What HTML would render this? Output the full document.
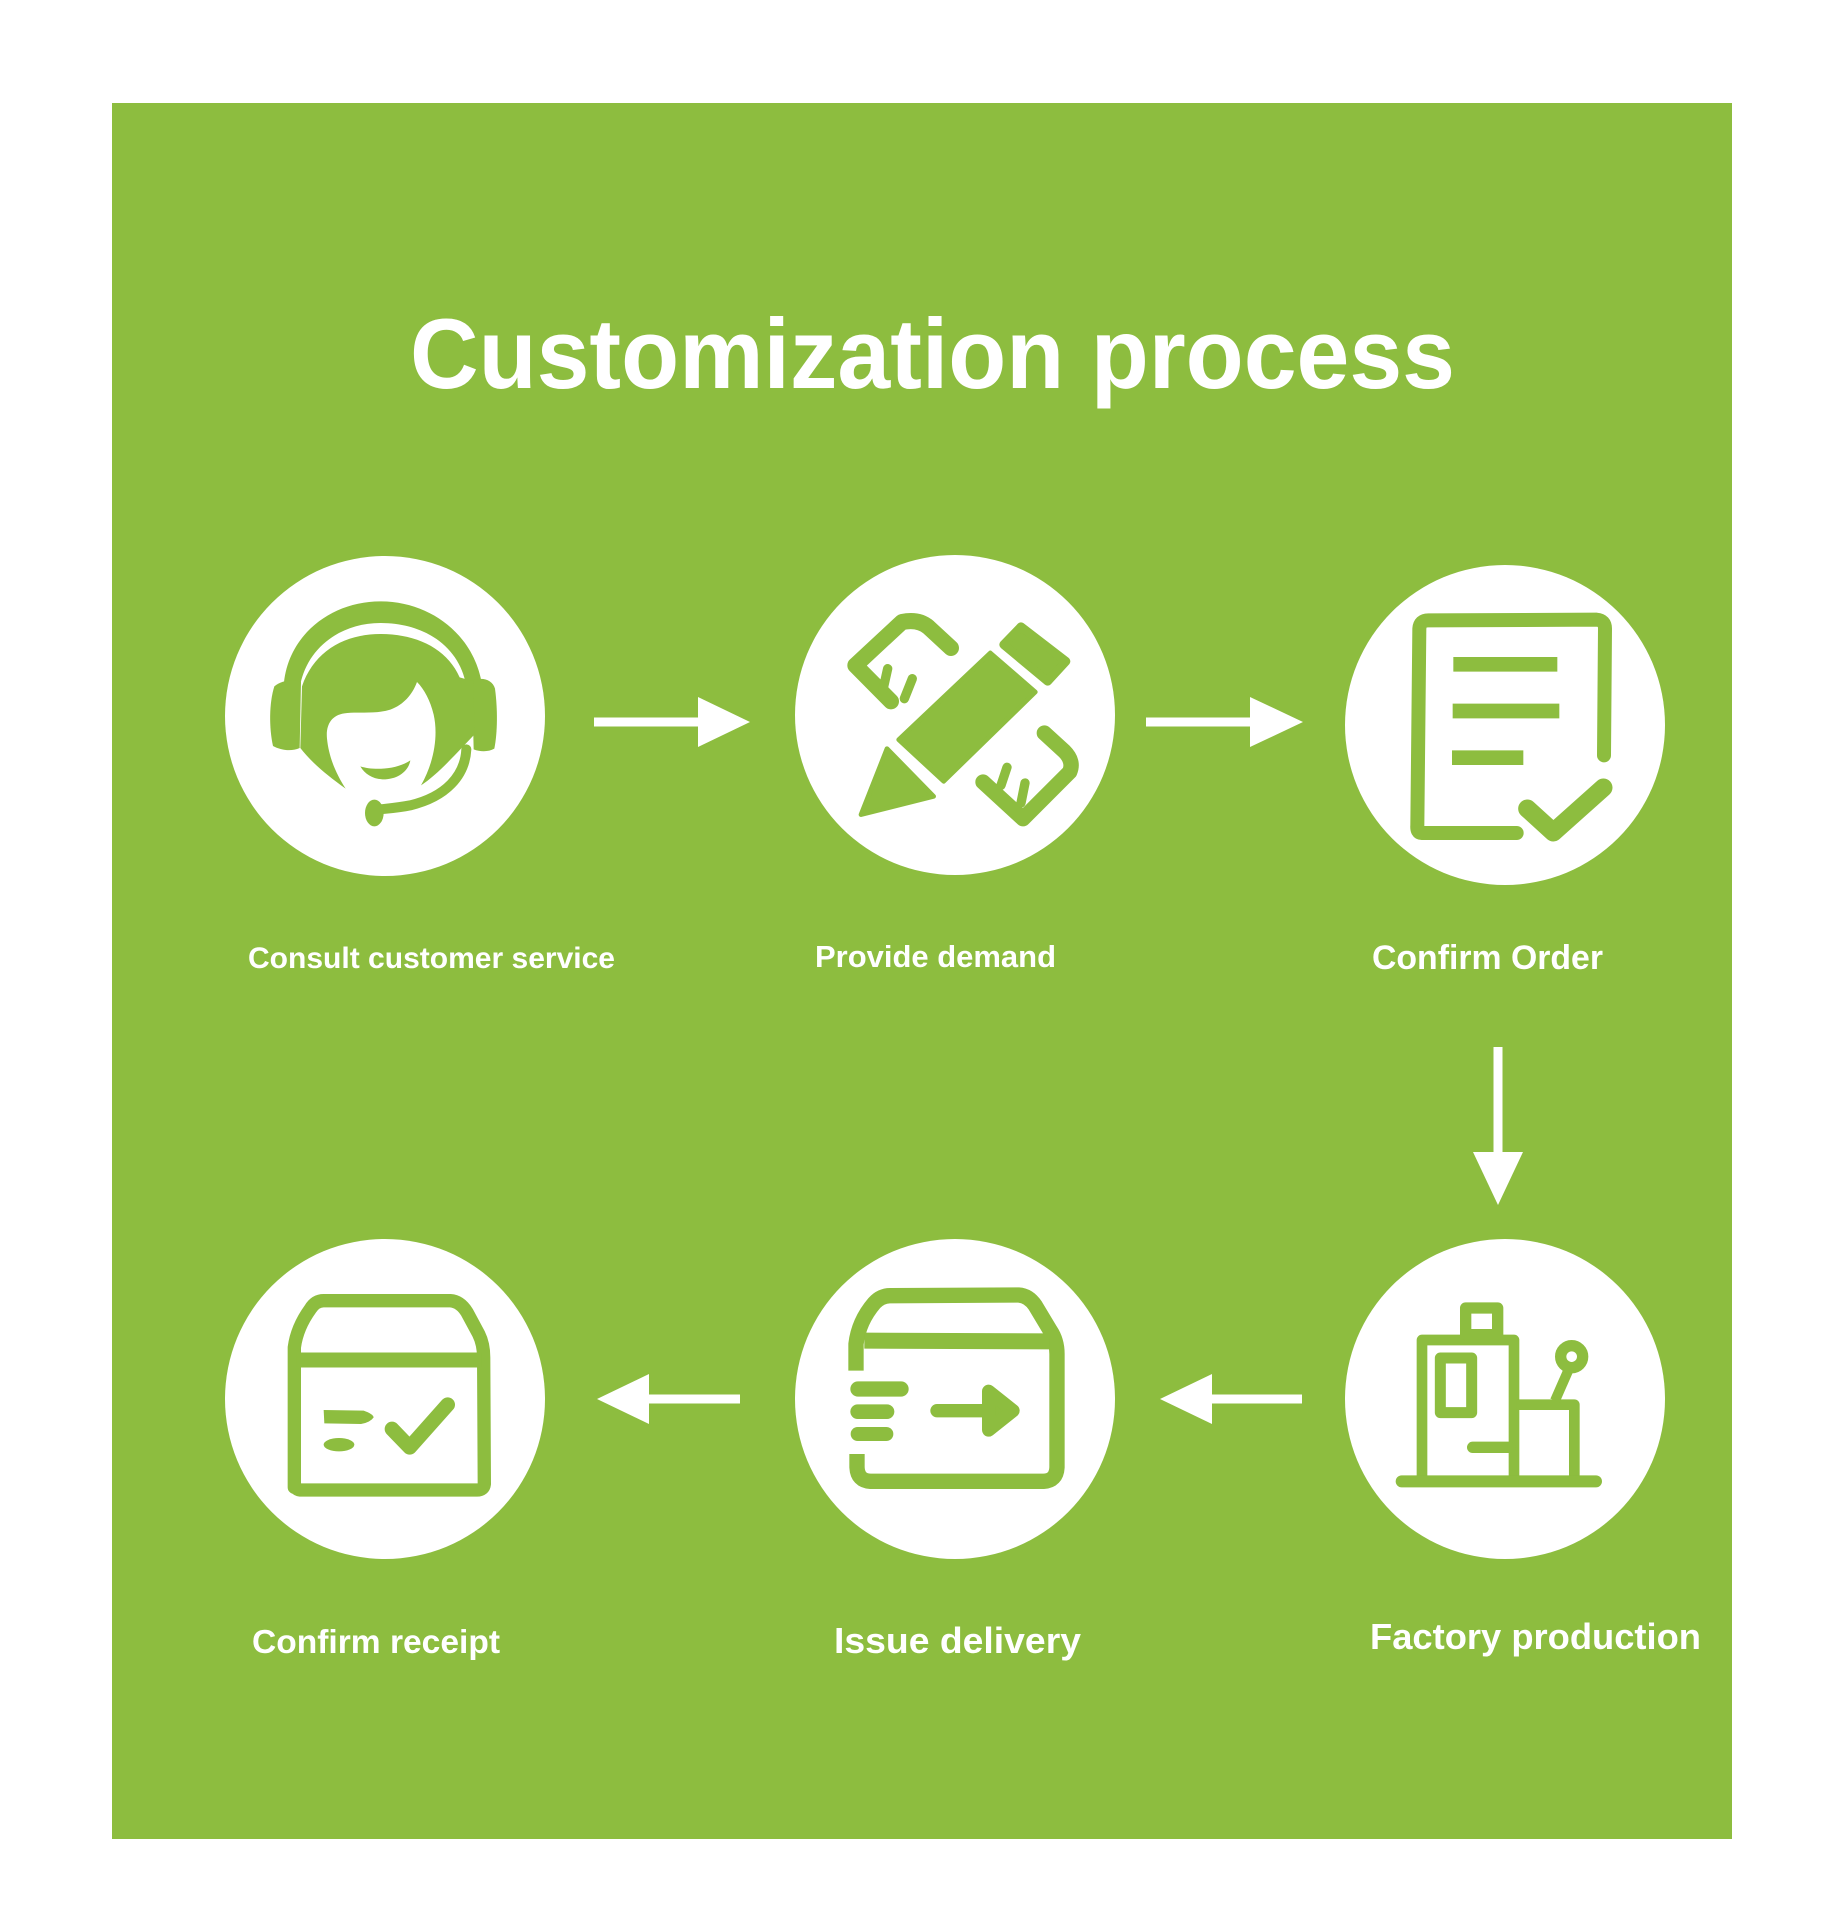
<!DOCTYPE html>
<html>
<head>
<meta charset="utf-8">
<style>
  html,body{margin:0;padding:0;background:#ffffff;}
  svg{display:block;}
  text{font-family:"Liberation Sans",Arial,sans-serif;font-weight:bold;fill:#ffffff;}
</style>
</head>
<body>
<svg width="1843" height="1920" viewBox="0 0 1843 1920" xmlns="http://www.w3.org/2000/svg">
  <rect x="0" y="0" width="1843" height="1920" fill="#ffffff"/>
  <rect x="112" y="103" width="1620" height="1736" fill="#8dbd3f"/>

  <!-- Title -->
  <text x="410" y="388" font-size="99" textLength="1045" lengthAdjust="spacingAndGlyphs">Customization process</text>

  <!-- Circles -->
  <g fill="#ffffff">
    <circle cx="385" cy="716" r="160"/>
    <circle cx="955" cy="715" r="160"/>
    <circle cx="1505" cy="725" r="160"/>
    <circle cx="385" cy="1399" r="160"/>
    <circle cx="955" cy="1399" r="160"/>
    <circle cx="1505" cy="1399" r="160"/>
  </g>

  <!-- Arrows -->
  <g fill="#ffffff">
    <rect x="594" y="717.5" width="106" height="9"/>
    <polygon points="698,697 750,722 698,747"/>
    <rect x="1146" y="717.5" width="106" height="9"/>
    <polygon points="1250,697 1303,722 1250,747"/>
    <rect x="1493.5" y="1047" width="9" height="107"/>
    <polygon points="1473,1152 1523,1152 1498,1205"/>
    <rect x="647" y="1394.5" width="93" height="9"/>
    <polygon points="597,1399 649,1374 649,1424"/>
    <rect x="1210" y="1394.5" width="92" height="9"/>
    <polygon points="1160,1399 1212,1374 1212,1424"/>
  </g>

  <!-- Labels -->
  <text x="248" y="968" font-size="30" textLength="367" lengthAdjust="spacingAndGlyphs">Consult customer service</text>
  <text x="815" y="967" font-size="31" textLength="241" lengthAdjust="spacingAndGlyphs">Provide demand</text>
  <text x="1372" y="969" font-size="34" textLength="231" lengthAdjust="spacingAndGlyphs">Confirm Order</text>
  <text x="252" y="1653" font-size="33" textLength="248" lengthAdjust="spacingAndGlyphs">Confirm receipt</text>
  <text x="834" y="1653" font-size="36" textLength="247" lengthAdjust="spacingAndGlyphs">Issue delivery</text>
  <text x="1370" y="1649" font-size="36" textLength="331" lengthAdjust="spacingAndGlyphs">Factory production</text>

  <!-- Icon 1: headset -->
  <g transform="translate(217,548) scale(0.33333)" fill="#8dbd3f">
    <path d="M200,415 C210,262 342,160 490,160 C642,160 772,262 795,410 L745,400 C720,292 620,225 490,225 C372,225 272,298 250,410 Z"/>
    <path d="M172,415 C195,396 232,392 252,402 L248,600 C222,612 190,606 168,594 C156,540 156,465 172,415 Z"/>
    <path d="M765,398 C795,386 826,394 834,422 C842,482 842,552 832,602 C815,612 790,612 770,604 Z"/>
    <path d="M255,415 C290,312 380,258 490,258 C600,258 690,302 728,388 L770,400 L772,560 C722,612 662,680 612,712 C652,642 664,562 650,500 C640,458 622,424 600,402 C586,440 560,470 520,485 C470,500 420,490 382,496 C342,502 326,532 330,572 C336,632 360,682 386,722 C330,682 282,642 250,600 Z"/>
    <path d="M430,655 C470,668 540,665 580,637 C575,668 545,692 505,694 C470,695 445,680 430,655 Z"/>
    <path d="M748,604 C744,682 688,746 580,772 C540,780 505,782 482,785" fill="none" stroke="#8dbd3f" stroke-width="30" stroke-linecap="round"/>
    <ellipse cx="472" cy="795" rx="28" ry="40"/>
  </g>

  <!-- Icon 2: pencil & ruler -->
  <g transform="translate(787,548) scale(0.33333)">
    <g fill="none" stroke="#8dbd3f" stroke-linejoin="round" stroke-linecap="round">
      <path d="M312,460 L205,352 L345,222 Q395,212 425,238 L492,300" stroke-width="48"/>
      <path d="M288,425 L302,362" stroke-width="28"/>
      <path d="M352,452 L376,392" stroke-width="28"/>
      <path d="M588,702 L708,812 L848,672 Q862,640 832,610 L772,555" stroke-width="46"/>
      <path d="M642,712 L660,658" stroke-width="28"/>
      <path d="M702,765 L714,705" stroke-width="28"/>
    </g>
    <g fill="#ffffff" stroke="#ffffff" stroke-width="60" stroke-linejoin="round">
      <polygon points="335,575 610,315 745,432 470,700"/>
      <polygon points="300,602 440,745 222,800"/>
      <polygon points="645,290 702,230 842,338 782,405"/>
    </g>
    <g fill="#8dbd3f" stroke="#8dbd3f" stroke-width="14" stroke-linejoin="round">
      <polygon points="335,575 610,315 745,432 470,700"/>
      <polygon points="300,602 440,745 222,800"/>
    </g>
    <polygon points="650,290 702,236 837,340 782,400" fill="#8dbd3f" stroke="#8dbd3f" stroke-width="26" stroke-linejoin="round"/>
  </g>

  <!-- Icon 3: document with check -->
  <g transform="translate(1340,557) scale(0.33333)" fill="none" stroke="#8dbd3f" stroke-linejoin="round">
    <path d="M530,828 L245,828 Q230,828 232,805 L238,215 Q240,190 265,190 L770,188 Q795,190 795,215 L792,595" stroke-width="42" stroke-linecap="round"/>
    <path d="M340,322 L652,322 M338,462 L658,462 M336,602 L550,602" stroke-width="44"/>
    <path d="M562,755 L640,826 L790,692" stroke-width="55" stroke-linecap="round"/>
  </g>

  <!-- Icon 4: factory -->
  <g transform="translate(1340,1234) scale(0.33333)" fill="none" stroke="#8dbd3f" stroke-linejoin="round">
    <path d="M246,735 L246,318 L522,318 L522,725" stroke-width="32"/>
    <rect x="377" y="222" width="96" height="80" stroke-width="34"/>
    <rect x="301" y="372" width="94" height="164" stroke-width="33"/>
    <path d="M398,640 L510,640" stroke-width="34" stroke-linecap="round"/>
    <path d="M530,512 L703,512 L703,730" stroke-width="32"/>
    <path d="M645,500 L688,402" stroke-width="30"/>
    <circle cx="695" cy="368" r="33" stroke-width="34"/>
    <path d="M185,742 L768,742" stroke-width="36" stroke-linecap="round"/>
  </g>

  <!-- Icon 5: delivery box -->
  <g transform="translate(787,1234) scale(0.33333)" fill="none" stroke="#8dbd3f" stroke-linejoin="round">
    <path d="M207,410 L207,330 Q215,262 262,207 Q282,185 310,185 L695,183 Q725,185 745,215 L790,290 Q810,320 810,360 L810,700 Q808,740 770,742 L250,742 Q212,740 210,700 L210,660" stroke-width="46"/>
    <path d="M232,320 L788,322" stroke-width="48"/>
    <path d="M213,465 L342,465" stroke-width="46" stroke-linecap="round"/>
    <path d="M212,533 L300,533" stroke-width="44" stroke-linecap="round"/>
    <path d="M212,600 L298,600" stroke-width="42" stroke-linecap="round"/>
    <path d="M450,530 L620,530" stroke-width="40" stroke-linecap="round"/>
    <path d="M605,472 L678,530 L605,588 Z" fill="#8dbd3f" stroke-width="40" stroke-linecap="round"/>
  </g>

  <!-- Icon 6: receipt box -->
  <g transform="translate(217,1234) scale(0.33333)" stroke="#8dbd3f" stroke-linejoin="round">
    <path d="M232,760 L232,340 Q240,280 280,225 Q295,200 320,200 L700,200 Q730,202 750,235 L785,300 Q800,330 800,370 L802,750 Q800,768 780,768 L250,768 Q232,766 232,745 Z" fill="none" stroke-width="40"/>
    <path d="M240,378 L795,378" fill="none" stroke-width="45"/>
    <path d="M320,528 L440,530 Q468,540 470,550 Q460,565 432,570 L322,568 Z" fill="#8dbd3f" stroke="none"/>
    <ellipse cx="366" cy="632" rx="46" ry="20" fill="#8dbd3f" stroke="none"/>
    <path d="M525,585 L578,640 L692,512" fill="none" stroke-width="44" stroke-linecap="round"/>
  </g>
</svg>
</body>
</html>
